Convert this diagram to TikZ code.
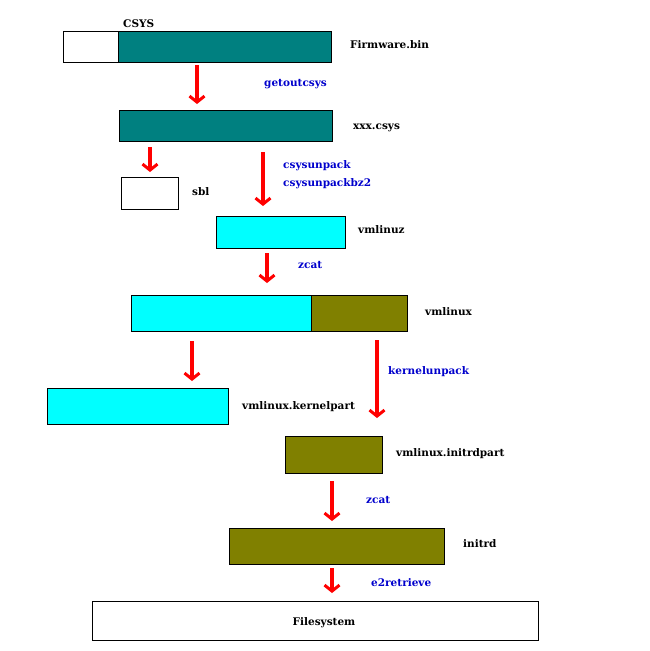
\documentclass[tikz,border=0pt]{standalone}
\usepackage{fontspec}
\newfontfamily\lblfont{DejaVu Serif}
\usetikzlibrary{arrows.meta,positioning}
\definecolor{csysteal}{RGB}{0,128,128}
\definecolor{kerncyan}{RGB}{0,255,255}
\definecolor{rdolive}{RGB}{128,128,0}
\definecolor{cmdblue}{RGB}{0,0,204}
\definecolor{flowred}{RGB}{255,0,0}

\begin{document}
\begin{tikzpicture}[x=1pt, y=-1pt, >={Straight Barb[length=6pt, width=15pt, line width=3pt]},
  box/.style={draw, line width=0.8pt, anchor=north west, inner sep=0pt},
  filelbl/.style={anchor=base west, inner sep=0pt, font=\lblfont\fontsize{10.5}{10.5}\selectfont\bfseries},
  cmd/.style={filelbl, text=cmdblue},
  flow/.style={->, draw=flowred, line width=4pt}]
  \useasboundingbox (0,0) rectangle (650,651);
  \node [box, minimum width=55pt, minimum height=31pt] (hdr) at (63,31) {};
  \node [box, fill=csysteal, minimum width=213pt, minimum height=31pt] (fw) at (118,31) {};
  \node [filelbl] (csyslbl) at (123,27) {CSYS};
  \node [filelbl] (fwlbl) at (350,48) {Firmware.bin};
  \node [box, fill=csysteal, minimum width=213pt, minimum height=31pt] (csys) at (119,110) {};
  \node [filelbl] (csyslb) at (353,129) {xxx.csys};
  \node [box, minimum width=57pt, minimum height=32pt] (sbl) at (121,177) {};
  \node [filelbl] (sbllbl) at (192,195) {sbl};
  \node [box, fill=kerncyan, minimum width=129pt, minimum height=32pt] (vmz) at (216,216) {};
  \node [filelbl] (vmzlbl) at (358,233) {vmlinuz};
  \node [box, fill=kerncyan, minimum width=180pt, minimum height=36pt] (vmk) at (131,295) {};
  \node [box, fill=rdolive, minimum width=96pt, minimum height=36pt] (vmi) at (311,295) {};
  \node [filelbl] (vmlbl) at (425,315) {vmlinux};
  \node [box, fill=kerncyan, minimum width=181pt, minimum height=36pt] (kpart) at (47,388) {};
  \node [filelbl] (kpartlbl) at (242,409) {vmlinux.kernelpart};
  \node [box, fill=rdolive, minimum width=97pt, minimum height=37pt] (ipart) at (285,436) {};
  \node [filelbl] (ipartlbl) at (396,456) {vmlinux.initrdpart};
  \node [box, fill=rdolive, minimum width=215pt, minimum height=36pt] (initrd) at (229,528) {};
  \node [filelbl] (initrdlbl) at (463,547) {initrd};
  \node [box, minimum width=446pt, minimum height=39pt] (fs) at (92,601) {};
  \node [filelbl, anchor=base] (fslbl) at (324,625) {Filesystem};
  \node [cmd] (getout) at (264,86) {getoutcsys};
  \node [cmd] (unpack) at (283,168) {csysunpack};
  \node [cmd] (unpackbz) at (283,186) {csysunpackbz2};
  \node [cmd] (zcata) at (298,268) {zcat};
  \node [cmd] (kunpack) at (388,374) {kernelunpack};
  \node [cmd] (zcatb) at (366,503) {zcat};
  \node [cmd] (e2r) at (371,586) {e2retrieve};
  \coordinate (a1) at (197,65);  \coordinate (b1) at (197,104);
  \coordinate (a2) at (150,147); \coordinate (b2) at (150,172);
  \coordinate (a3) at (263,152); \coordinate (b3) at (263,206);
  \coordinate (a4) at (267,253); \coordinate (b4) at (267,283);
  \coordinate (a5) at (192,341); \coordinate (b5) at (192,381);
  \coordinate (a6) at (377,340); \coordinate (b6) at (377,418);
  \coordinate (a7) at (332,481); \coordinate (b7) at (332,521);
  \coordinate (a8) at (332,568); \coordinate (b8) at (332,593);
  \foreach \i in {1,...,8}
    \draw [flow] (a\i) -- (b\i);
\end{tikzpicture}
\end{document}
